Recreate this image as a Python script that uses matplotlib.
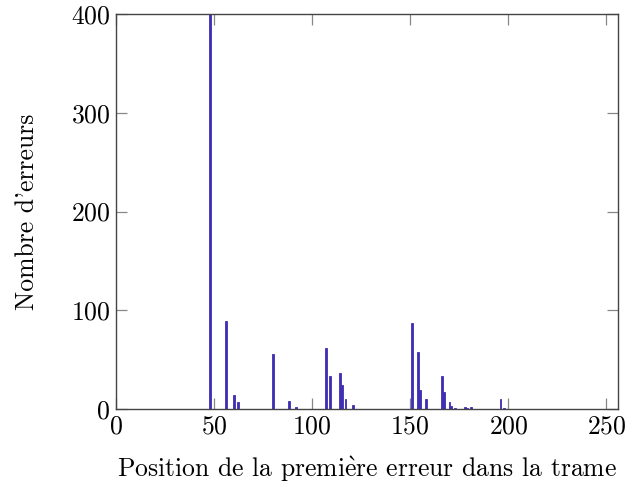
import matplotlib
matplotlib.use("Agg")
import matplotlib.pyplot as plt
import numpy as np

# Data: position of first error -> number of errors (nonzero entries)
positions = [48, 56, 60, 62, 80, 88, 92, 107, 109, 114, 115, 117, 121,
             151, 154, 155, 158, 166, 167, 170, 171, 173, 178, 179, 181, 196, 198]
counts = [450, 89, 14, 7, 56, 8, 2, 62, 33, 37, 24, 10, 4,
          87, 58, 19, 10, 34, 17, 7, 3, 1, 2, 1, 2, 10, 1]
# range of positions covered by the histogram (others are zero)
first_pos, last_pos = 48, 199

xticks = [0, 50, 100, 150, 200, 250]
yticks = [0, 100, 200, 300, 400]

plt.rcParams['font.family'] = ['cmr10', 'DejaVu Serif']
plt.rcParams['mathtext.fontset'] = 'cm'
plt.rcParams['axes.formatter.use_mathtext'] = True

fig = plt.figure(figsize=(6.44, 4.87), dpi=100)
ax = fig.add_axes([0.180, 0.160, 0.780, 0.811])

lookup = dict(zip(positions, counts))
all_x = np.arange(first_pos, last_pos + 1)
all_y = np.array([lookup.get(int(p), 0) for p in all_x])

bar_color = '#3f2fb3'
ax.bar(all_x, all_y, width=1.0, color=bar_color, edgecolor=bar_color,
       linewidth=0.6, zorder=2)

ax.set_xlim(0, 256)
ax.set_ylim(0, 400)
ax.set_xticks(xticks)
ax.set_yticks(yticks)
ax.tick_params(direction='in', length=8, width=0.9, color='#888888',
               top=True, right=True, labelsize=18.5, pad=4)
for s in ax.spines.values():
    s.set_color('#444444')
    s.set_linewidth(1.0)
    s.set_zorder(3)

ax.set_xlabel(r'Position de la premi$\grave{\mathrm{e}}$re erreur dans la trame',
              fontsize=18.5, labelpad=12)
ax.set_ylabel("Nombre d'erreurs", fontsize=18.5, labelpad=23)

fig.savefig('out.png', dpi=100)
